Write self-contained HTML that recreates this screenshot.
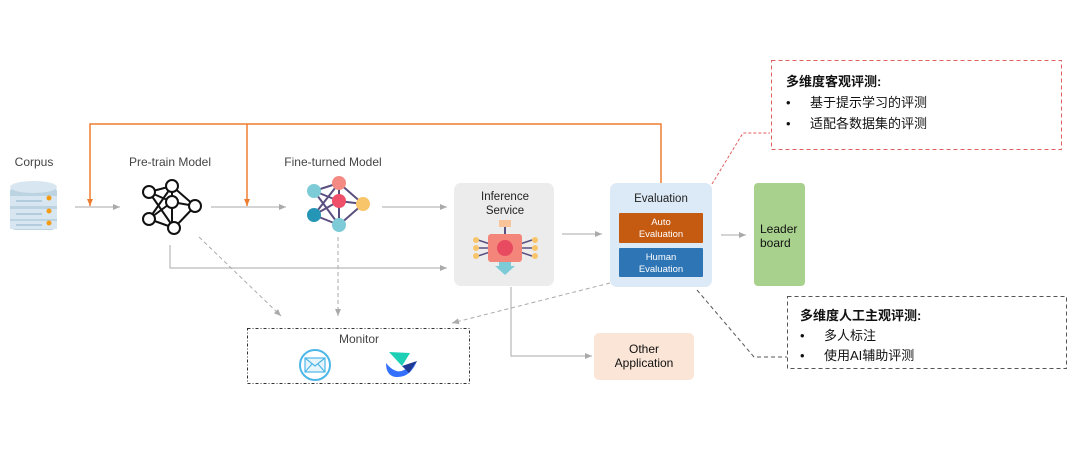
<!DOCTYPE html>
<html><head><meta charset="utf-8"><style>
html,body{margin:0;padding:0;background:#fff;}
svg text{font-family:"Liberation Sans","Noto Sans CJK SC",sans-serif;}
</style></head><body>
<svg width="1080" height="458" viewBox="0 0 1080 458" xmlns="http://www.w3.org/2000/svg">
<defs>
<marker id="ag" markerWidth="8" markerHeight="8" refX="7" refY="4" orient="auto" markerUnits="userSpaceOnUse"><path d="M0,1 L7,4 L0,7 Z" fill="#aaa"/></marker>
<marker id="ao" markerWidth="8" markerHeight="8" refX="7" refY="4" orient="auto" markerUnits="userSpaceOnUse"><path d="M0,1 L7,4 L0,7 Z" fill="#ed7d31"/></marker>
</defs>
<rect width="1080" height="458" fill="#fff"/>
<path d="M661,183 V124 H90 V206" fill="none" stroke="#ed7d31" stroke-width="1.5" marker-end="url(#ao)"/>
<path d="M247,124 V206" fill="none" stroke="#ed7d31" stroke-width="1.5" marker-end="url(#ao)"/>
<g stroke="#aaa" stroke-width="1" fill="none">
<line x1="75" y1="207" x2="120" y2="207" marker-end="url(#ag)"/>
<line x1="211" y1="207" x2="286" y2="207" marker-end="url(#ag)"/>
<line x1="382" y1="207" x2="447" y2="207" marker-end="url(#ag)"/>
<line x1="562" y1="234" x2="602" y2="234" marker-end="url(#ag)"/>
<line x1="721" y1="235" x2="746" y2="235" marker-end="url(#ag)"/>
<path d="M170,245 V268 H447" marker-end="url(#ag)"/>
<path d="M511,287 V356 H592" marker-end="url(#ag)"/>
</g>
<g stroke="#aaa" stroke-width="1" fill="none" stroke-dasharray="4,3">
<line x1="199" y1="237" x2="281" y2="316" marker-end="url(#ag)"/>
<line x1="338" y1="237" x2="338" y2="316" marker-end="url(#ag)"/>
<line x1="610" y1="283" x2="452" y2="323" marker-end="url(#ag)"/>
</g>
<text x="34" y="166" font-size="12" fill="#444" text-anchor="middle">Corpus</text>
<g>
<rect x="10" y="186" width="47" height="44" rx="6" fill="#bcd3e2"/>
<ellipse cx="33.5" cy="187" rx="23.5" ry="6" fill="#d7e6f0"/>
<rect x="10" y="196" width="47" height="10" fill="#d7e6f0"/>
<rect x="10" y="209" width="47" height="10" fill="#d7e6f0"/>
<rect x="10" y="221" width="47" height="8" fill="#d7e6f0"/>
<line x1="16" y1="201" x2="42" y2="201" stroke="#8fb2c8"/>
<line x1="16" y1="214" x2="42" y2="214" stroke="#8fb2c8"/>
<line x1="16" y1="225" x2="42" y2="225" stroke="#8fb2c8"/>
<circle cx="49" cy="198" r="2.5" fill="#f39c12"/><circle cx="49" cy="211" r="2.5" fill="#f39c12"/><circle cx="49" cy="223" r="2.5" fill="#f39c12"/>
</g>
<text x="170" y="166" font-size="12" fill="#444" text-anchor="middle">Pre-train Model</text>
<g stroke="#111" stroke-width="2" fill="none">
<line x1="149" y1="192" x2="172" y2="186"/><line x1="149" y1="192" x2="172" y2="202"/><line x1="149" y1="192" x2="174" y2="228"/>
<line x1="149" y1="219" x2="172" y2="202"/><line x1="149" y1="219" x2="174" y2="228"/><line x1="149" y1="219" x2="172" y2="186"/>
<line x1="172" y1="186" x2="195" y2="206"/><line x1="172" y1="202" x2="195" y2="206"/><line x1="174" y1="228" x2="195" y2="206"/><line x1="172" y1="186" x2="172" y2="228"/>
<g fill="#fff"><circle cx="149" cy="192" r="6"/><circle cx="149" cy="219" r="6"/><circle cx="172" cy="186" r="6"/><circle cx="172" cy="202" r="6"/><circle cx="174" cy="228" r="6"/><circle cx="195" cy="206" r="6"/></g>
</g>
<text x="333" y="166" font-size="12" fill="#444" text-anchor="middle">Fine-turned  Model</text>
<g stroke="#5b4f80" stroke-width="2">
<line x1="314" y1="191" x2="339" y2="183"/><line x1="314" y1="191" x2="339" y2="201"/><line x1="314" y1="191" x2="339" y2="225"/>
<line x1="314" y1="215" x2="339" y2="201"/><line x1="314" y1="215" x2="339" y2="225"/><line x1="314" y1="215" x2="339" y2="183"/>
<line x1="339" y1="183" x2="363" y2="204"/><line x1="339" y1="201" x2="363" y2="204"/><line x1="339" y1="225" x2="363" y2="204"/><line x1="339" y1="183" x2="339" y2="225"/>
</g>
<circle cx="314" cy="191" r="7" fill="#7ccbd6"/><circle cx="314" cy="215" r="7" fill="#2596b5"/><circle cx="339" cy="183" r="7" fill="#f48a84"/><circle cx="339" cy="201" r="7" fill="#ef4f68"/><circle cx="339" cy="225" r="7" fill="#7ccbd6"/><circle cx="363" cy="204" r="7" fill="#f9c56b"/>
<rect x="454" y="183" width="100" height="103" rx="7" fill="#ececec"/>
<text x="505" y="200" font-size="11.5" fill="#222" text-anchor="middle">Inference</text>
<text x="505" y="214" font-size="11.5" fill="#222" text-anchor="middle">Service</text>
<rect x="499" y="220" width="12" height="7" fill="#f9c49a"/>
<line x1="505" y1="227" x2="505" y2="234" stroke="#5b4f80" stroke-width="2"/>
<g stroke="#5b4f80" stroke-width="1.5"><line x1="478" y1="240" x2="490" y2="244"/><line x1="478" y1="248" x2="490" y2="248"/><line x1="478" y1="256" x2="490" y2="252"/><line x1="520" y1="244" x2="532" y2="240"/><line x1="520" y1="248" x2="532" y2="248"/><line x1="520" y1="252" x2="532" y2="256"/></g>
<g fill="#f9c56b"><circle cx="476" cy="240" r="3"/><circle cx="476" cy="248" r="3"/><circle cx="476" cy="256" r="3"/><circle cx="535" cy="240" r="3"/><circle cx="535" cy="248" r="3"/><circle cx="535" cy="256" r="3"/></g>
<rect x="488" y="234" width="34" height="28" rx="3" fill="#f4857a"/>
<circle cx="505" cy="248" r="8" fill="#e84a5f"/>
<path d="M499,262 H511 V266 H515 L505,275 L495,266 H499 Z" fill="#7ccbd6"/>
<rect x="610" y="183" width="102" height="104" rx="7" fill="#dce9f6"/>
<text x="661" y="202" font-size="11.5" fill="#222" text-anchor="middle">Evaluation</text>
<rect x="619" y="213" width="84" height="30" rx="1" fill="#c55a11"/>
<text x="661" y="225" font-size="9.5" fill="#fff" text-anchor="middle">Auto</text>
<text x="661" y="237" font-size="9.5" fill="#fff" text-anchor="middle">Evaluation</text>
<rect x="619" y="248" width="84" height="29" rx="1" fill="#2e75b6"/>
<text x="661" y="260" font-size="9.5" fill="#fff" text-anchor="middle">Human</text>
<text x="661" y="272" font-size="9.5" fill="#fff" text-anchor="middle">Evaluation</text>
<rect x="754" y="183" width="51" height="103" rx="4" fill="#a9d18e"/>
<text x="760" y="233" font-size="12" fill="#111">Leader</text>
<text x="760" y="247" font-size="12" fill="#111">board</text>
<rect x="247.5" y="328.5" width="222" height="55" fill="none" stroke="#333" stroke-width="1" stroke-dasharray="3,2,1,2"/>
<text x="359" y="343" font-size="12" fill="#444" text-anchor="middle">Monitor</text>
<circle cx="315" cy="365" r="15" fill="#fff" stroke="#4db6e8" stroke-width="2"/>
<rect x="305" y="358" width="20" height="14" fill="#e6f5fc" stroke="#4db6e8" stroke-width="1.2"/>
<path d="M305,358 L315,366 L325,358 M305,372 L312,364 M325,372 L318,364" fill="none" stroke="#4db6e8" stroke-width="1.2"/>
<path d="M389,352 L410,353 L402,366 Z" fill="#1ccfb5"/>
<path d="M386,363 Q398,378 409,366 L417,361 Q410,378 396,377 Q386,376 386,363 Z" fill="#3370ff"/>
<path d="M402,366 L417,361 L409,373 Z" fill="#1f3a93"/>
<rect x="594" y="333" width="100" height="47" rx="5" fill="#fbe5d6"/>
<text x="644" y="353" font-size="12" fill="#111" text-anchor="middle">Other</text>
<text x="644" y="367" font-size="12" fill="#111" text-anchor="middle">Application</text>
<path d="M712,184 L743,133 H770" fill="none" stroke="#e06060" stroke-width="1" stroke-dasharray="3,2"/>
<rect x="771.5" y="60.5" width="290" height="89" fill="none" stroke="#e06060" stroke-width="1" stroke-dasharray="4,3"/>
<text x="786" y="86" font-size="13" font-weight="bold" fill="#111">多维度客观评测:</text>
<text x="786" y="107" font-size="13" fill="#111">•</text><text x="810" y="107" font-size="13" fill="#111">基于提示学习的评测</text>
<text x="786" y="128" font-size="13" fill="#111">•</text><text x="810" y="128" font-size="13" fill="#111">适配各数据集的评测</text>
<path d="M697,290 L754,357 H787" fill="none" stroke="#555" stroke-width="1" stroke-dasharray="4,3"/>
<rect x="787.5" y="296.5" width="279" height="72" fill="none" stroke="#555" stroke-width="1" stroke-dasharray="4,3"/>
<text x="800" y="320" font-size="13" font-weight="bold" fill="#111">多维度人工主观评测:</text>
<text x="800" y="340" font-size="13" fill="#111">•</text><text x="824" y="340" font-size="13" fill="#111">多人标注</text>
<text x="800" y="360" font-size="13" fill="#111">•</text><text x="824" y="360" font-size="13" fill="#111">使用AI辅助评测</text>
</svg>
</body></html>
